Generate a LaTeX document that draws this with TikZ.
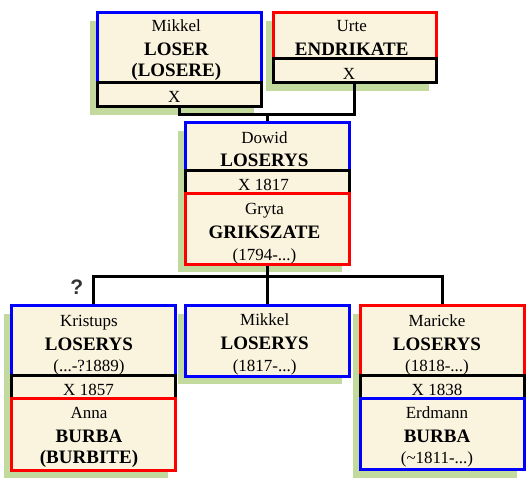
\documentclass[tikz,border=0pt]{standalone}
\usepackage{fontspec}
\setmainfont{Liberation Serif}
\newfontfamily\qfont{Liberation Sans}
\definecolor{cream}{RGB}{250,243,222}
\definecolor{shadowgreen}{RGB}{195,218,158}
\definecolor{pblue}{RGB}{0,0,255}
\definecolor{pred}{RGB}{255,0,0}
\definecolor{qgray}{RGB}{51,51,51}
\tikzset{
  pbox/.style={rectangle, fill=cream, line width=3pt, inner sep=0pt, outer sep=0pt, anchor=north west},
  conn/.style={draw=black, line width=3pt, line join=miter},
  shadowfill/.style={fill=shadowgreen, draw=none},
  nm/.style={font=\fontsize{17}{20}\selectfont, text height=12pt, text depth=0pt, inner sep=0pt},
  sn/.style={font=\fontsize{19}{22}\selectfont\bfseries, text height=12pt, text depth=0pt, inner sep=0pt},
}
\begin{document}
\begin{tikzpicture}[x=1pt,y=-1pt]
\useasboundingbox (0,0) rectangle (530,480);
% shadows
\path[shadowfill] (90,20.5) rectangle (254,114.5);
\path[shadowfill] (265.5,20.5) rectangle (428.5,90.5);
\path[shadowfill] (178,130.5) rectangle (342,272);
\path[shadowfill] (4,313.5) rectangle (167.5,478);
\path[shadowfill] (178,313.5) rectangle (342,384);
\path[shadowfill] (352.5,313.5) rectangle (517,477.5);
% boxes
\node[pbox, draw=pblue, minimum width=164pt, minimum height=70pt] (a1) at (97.5,12.5) {};
\node[pbox, draw=black, minimum width=164pt, minimum height=24pt] (a1x) at (97.5,82.5) {};
\node[pbox, draw=pred, minimum width=163pt, minimum height=45.5pt] (a2) at (273,12.5) {};
\node[pbox, draw=black, minimum width=163pt, minimum height=24.5pt] (a2x) at (273,58) {};
\node[pbox, draw=pblue, minimum width=164pt, minimum height=48pt] (dw) at (185.5,122.5) {};
\node[pbox, draw=black, minimum width=164pt, minimum height=23pt] (dwx) at (185.5,170.5) {};
\node[pbox, draw=pred, minimum width=164pt, minimum height=70.5pt] (gr) at (185.5,193.5) {};
\node[pbox, draw=pblue, minimum width=163.5pt, minimum height=69.5pt] (kr) at (11.5,305.5) {};
\node[pbox, draw=black, minimum width=163.5pt, minimum height=23.5pt] (krx) at (11.5,375) {};
\node[pbox, draw=pred, minimum width=163.5pt, minimum height=71.5pt] (an) at (11.5,398.5) {};
\node[pbox, draw=pblue, minimum width=164pt, minimum height=70.5pt] (mk) at (185.5,305.5) {};
\node[pbox, draw=pred, minimum width=164.5pt, minimum height=69.5pt] (mr) at (360,305.5) {};
\node[pbox, draw=black, minimum width=164.5pt, minimum height=23.5pt] (mrx) at (360,375) {};
\node[pbox, draw=pblue, minimum width=164.5pt, minimum height=71pt] (er) at (360,398.5) {};
% connectors
\coordinate (j1) at (267.5,114);
\coordinate (j2) at (267.5,276);
\draw[conn] (a1x.south) |- (j1) -| (a2x.south);
\draw[conn] (j1) -- (dw.north);
\draw[conn] (gr.south) -- (j2);
\draw[conn] (kr.north) |- (j2) -| (mr.north);
\draw[conn] (j2) -- (mk.north);
% redraw box borders over connector ends
\draw[line width=3pt, pblue] (a1.north west) rectangle (a1.south east);
\draw[line width=3pt, black] (a1x.north west) rectangle (a1x.south east);
\draw[line width=3pt, pred] (a2.north west) rectangle (a2.south east);
\draw[line width=3pt, black] (a2x.north west) rectangle (a2x.south east);
\draw[line width=3pt, pblue] (dw.north west) rectangle (dw.south east);
\draw[line width=3pt, black] (dwx.north west) rectangle (dwx.south east);
\draw[line width=3pt, pred] (gr.north west) rectangle (gr.south east);
\draw[line width=3pt, pblue] (kr.north west) rectangle (kr.south east);
\draw[line width=3pt, black] (krx.north west) rectangle (krx.south east);
\draw[line width=3pt, pred] (an.north west) rectangle (an.south east);
\draw[line width=3pt, pblue] (mk.north west) rectangle (mk.south east);
\draw[line width=3pt, pred] (mr.north west) rectangle (mr.south east);
\draw[line width=3pt, black] (mrx.north west) rectangle (mrx.south east);
\draw[line width=3pt, pblue] (er.north west) rectangle (er.south east);
% texts
\node[nm] (t1a) at (176.3,25) {Mikkel};
\node[sn] (t1b) at (176.3,49.3) {LOSER};
\node[sn] (t1c) at (176.3,70.7) {(LOSERE)};
\node[nm] (t1x) at (174.3,96.2) {X};
\node[nm] (t2a) at (351.7,25) {Urte};
\node[sn] (t2b) at (351.7,49.2) {ENDRIKATE};
\node[nm] (t2x) at (349,73.8) {X};
\node[nm] (t3a) at (264.5,137) {Dowid};
\node[sn] (t3b) at (264.5,160.3) {LOSERYS};
\node[nm] (t3x) at (263.5,184.2) {X 1817};
\node[nm] (t3c) at (264.5,208.8) {Gryta};
\node[sn] (t3d) at (264.5,232) {GRIKSZATE};
\node[nm] (t3e) at (264.5,254.7) {(1794-...)};
\node[nm] (t4a) at (89,320.3) {Kristups};
\node[sn] (t4b) at (89,344) {LOSERYS};
\node[nm] (t4c) at (89,365.5) {(...-?1889)};
\node[nm] (t4x) at (88.5,389.2) {X 1857};
\node[nm] (t4d) at (89,412.5) {Anna};
\node[sn] (t4e) at (89,436.3) {BURBA};
\node[sn] (t4f) at (89,457.8) {(BURBITE)};
\node[nm] (t5a) at (264.7,319.8) {Mikkel};
\node[sn] (t5b) at (264.7,343.3) {LOSERYS};
\node[nm] (t5c) at (264.7,365.5) {(1817-...)};
\node[nm] (t6a) at (437,320) {Maricke};
\node[sn] (t6b) at (437,344) {LOSERYS};
\node[nm] (t6c) at (437,365.5) {(1818-...)};
\node[nm] (t6x) at (437,389.5) {X 1838};
\node[nm] (t6d) at (437,412.5) {Erdmann};
\node[sn] (t6e) at (437,436.3) {BURBA};
\node[nm] (t6f) at (437,457.8) {(\textasciitilde 1811-...)};
\node[font=\qfont\fontsize{21}{24}\selectfont\bfseries, text=qgray, inner sep=0pt] (q) at (76.7,287.5) {?};
\end{tikzpicture}
\end{document}
